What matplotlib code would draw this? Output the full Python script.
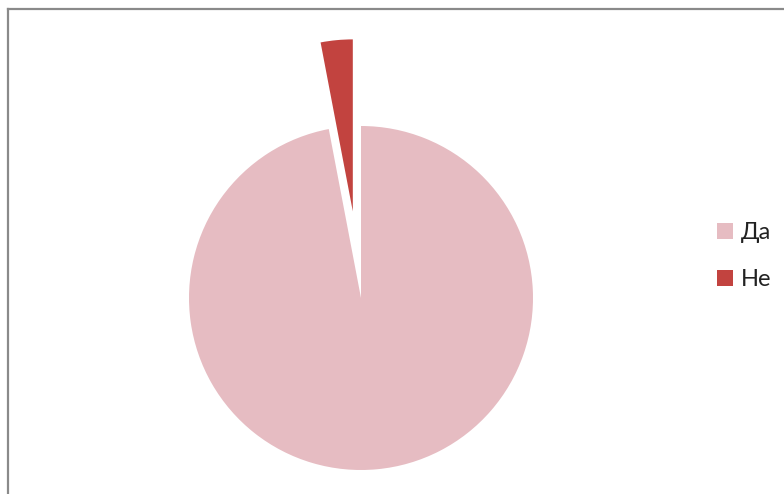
import matplotlib
matplotlib.use("Agg")
import matplotlib.pyplot as plt
from matplotlib.lines import Line2D

labels = ["Да", "Не"]
values = [97, 3]
colors = ["#e6bcc2", "#c2433f"]

W, H = 784, 494
fig = plt.figure(figsize=(W / 100, H / 100), dpi=100)
fig.patch.set_facecolor("white")
ax = fig.add_axes([0, 0, 1, 1])

wedges, _ = ax.pie(values, colors=colors, startangle=90, counterclock=False,
                   center=(361, H - 298), radius=172, explode=[0, 87],
                   wedgeprops=dict(linewidth=0), frame=True)
ax.set_xlim(0, W)
ax.set_ylim(0, H)
ax.set_aspect("equal")
ax.axis("off")

leg = ax.legend(wedges, labels, loc="center left",
                bbox_to_anchor=(717 / W, 1 - 256 / H), frameon=False,
                prop=dict(family="Lato", size=17), handlelength=0.68,
                handleheight=0.68, handletextpad=0.35, labelspacing=1.1,
                borderaxespad=0, borderpad=0)
for t in leg.get_texts():
    t.set_color("#222222")

# chart frame (top and left edges)
fig.add_artist(Line2D([8 / W, 1], [1 - 9.5 / H, 1 - 9.5 / H], transform=fig.transFigure,
                      color="#8a8a8a", linewidth=1.6))
fig.add_artist(Line2D([8 / W, 8 / W], [0, 1 - 9.5 / H], transform=fig.transFigure,
                      color="#8a8a8a", linewidth=1.6))

fig.savefig("out.png", dpi=100, facecolor="white")
